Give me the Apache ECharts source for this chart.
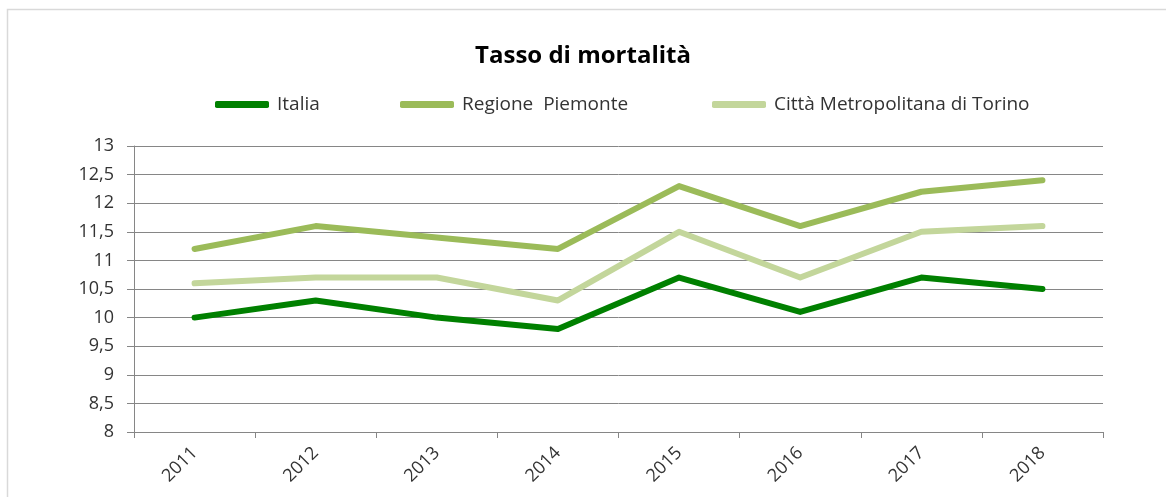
<!DOCTYPE html>
<html>
<head>
<meta charset="utf-8">
<script src="https://cdn.jsdelivr.net/npm/echarts@6/dist/echarts.min.js"></script>
<style>
  html, body { margin: 0; padding: 0; background: #fff; }
  #chart { width: 1166px; height: 497px; }
</style>
</head>
<body>
<div id="chart"></div>
<script>
// Anni e tassi di mortalità (per 1.000 abitanti)
const years = ['2011', '2012', '2013', '2014', '2015', '2016', '2017', '2018'];
const italia = [10.0, 10.3, 10.0, 9.8, 10.7, 10.1, 10.7, 10.5];
const piemonte = [11.2, 11.6, 11.4, 11.2, 12.3, 11.6, 12.2, 12.4];
const torino = [10.6, 10.7, 10.7, 10.3, 11.5, 10.7, 11.5, 11.6];

const seriesNames = ['Italia', 'Regione  Piemonte', 'Città Metropolitana di Torino'];
const seriesColors = ['#008000', '#9BBB59', '#C3D69B'];
const seriesData = [italia, piemonte, torino];

const FONT = '"Open Sans", "Noto Sans", sans-serif';
const chart = echarts.init(document.getElementById('chart'), null, { renderer: 'canvas' });

// one legend block per series, each placed on its own
const legendLeft = [215, 400, 712];
const legends = seriesNames.map((name, i) => ({
  data: [name],
  left: legendLeft[i],
  top: 95,
  padding: 0,
  icon: 'roundRect',
  itemWidth: 54,
  itemHeight: 7,
  itemGap: 0,
  textStyle: { fontFamily: FONT, fontSize: 19, color: '#333', padding: [0, 0, 0, 3] }
}));

chart.setOption({
  animation: false,
  backgroundColor: '#fff',
  title: {
    text: 'Tasso di mortalità',
    left: 'center',
    top: 44,
    padding: 0,
    textStyle: { fontFamily: FONT, fontSize: 24, fontWeight: 'bold', color: '#000' }
  },
  graphic: [{
    type: 'rect',
    shape: { x: 7.5, y: 9.5, width: 1200, height: 600 },
    style: { fill: 'none', stroke: '#d9d9d9', lineWidth: 1.5 },
    silent: true
  }],
  legend: legends,
  grid: { left: 134, right: 63, top: 146, bottom: 65, containLabel: false },
  xAxis: {
    type: 'category',
    data: years,
    boundaryGap: true,
    axisLine: { lineStyle: { color: '#868686', width: 1 } },
    axisTick: { show: true, length: 6, lineStyle: { color: '#868686' } },
    axisLabel: { rotate: 45, fontFamily: FONT, fontSize: 18, color: '#333', margin: 18 }
  },
  yAxis: {
    type: 'value',
    min: 8,
    max: 13,
    interval: 0.5,
    axisLine: { show: true, lineStyle: { color: '#868686', width: 1 } },
    axisTick: { show: true, length: 7, lineStyle: { color: '#868686' } },
    splitLine: { lineStyle: { color: '#868686', width: 1 } },
    axisLabel: {
      fontFamily: FONT, fontSize: 18, color: '#333', margin: 20,
      formatter: v => String(v).replace('.', ',')
    }
  },
  series: seriesData.map((d, i) => ({
    name: seriesNames[i],
    type: 'line',
    data: d,
    showSymbol: false,
    symbol: 'none',
    color: seriesColors[i],
    lineStyle: { width: 6, color: seriesColors[i], cap: 'round', join: 'round' },
    z: 3 - i
  }))
});
</script>
</body>
</html>
